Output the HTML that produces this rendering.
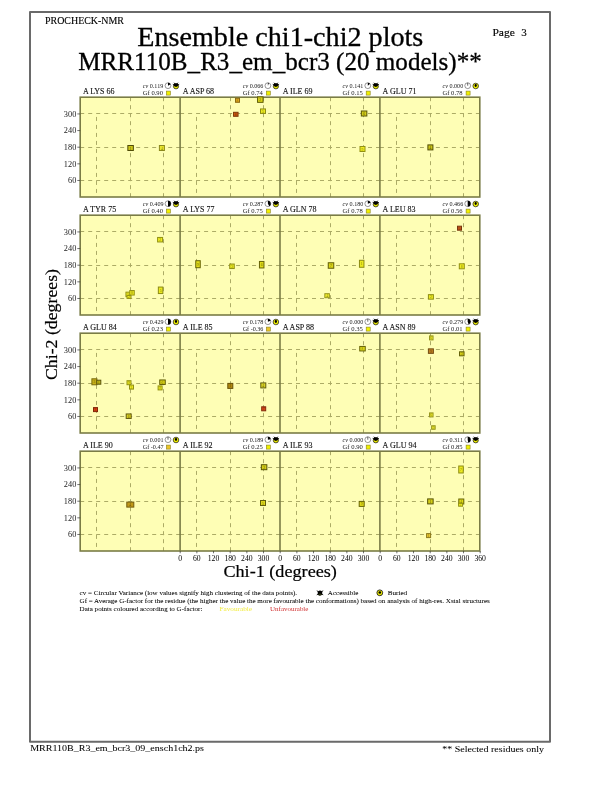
<!DOCTYPE html><html><head><meta charset="utf-8"><style>html,body{margin:0;padding:0;background:#fff;}svg{display:block;will-change:transform;}text{font-family:"Liberation Serif", serif;}</style></head><body>
<svg width="612" height="792" viewBox="0 0 612 792">
<rect x="0" y="0" width="612" height="792" fill="#fff"/>
<path d="M30 12 H550 V741.8 H30 Z" fill="none" stroke="#6a6a6a" stroke-width="2" stroke-linejoin="round"/>
<text x="45.0" y="23.8" font-size="10" stroke="#000" stroke-width="0.12" textLength="79" lengthAdjust="spacingAndGlyphs">PROCHECK-NMR</text>
<text x="137.3" y="45.7" font-size="27.4" stroke="#000" stroke-width="0.3" textLength="286" lengthAdjust="spacingAndGlyphs">Ensemble chi1-chi2 plots</text>
<text x="78.3" y="69.8" font-size="25.4" stroke="#000" stroke-width="0.3" textLength="403.5" lengthAdjust="spacingAndGlyphs">MRR110B_R3_em_bcr3 (20 models)**</text>
<text x="492.4" y="35.7" font-size="10.7" stroke="#000" stroke-width="0.15" textLength="22.4" lengthAdjust="spacingAndGlyphs">Page</text><text x="521.3" y="35.7" font-size="11" stroke="#000" stroke-width="0.15">3</text>
<rect x="80.20" y="97.20" width="99.9" height="99.8" fill="#fefeb5"/>
<line x1="80.20" y1="180.50" x2="180.10" y2="180.50" stroke="#acab66" stroke-width="1" stroke-dasharray="4 4"/>
<line x1="80.20" y1="147.50" x2="180.10" y2="147.50" stroke="#acab66" stroke-width="1" stroke-dasharray="4 4"/>
<line x1="80.20" y1="113.50" x2="180.10" y2="113.50" stroke="#acab66" stroke-width="1" stroke-dasharray="4 4"/>
<line x1="130.50" y1="97.20" x2="130.50" y2="197.00" stroke="#acab66" stroke-width="1" stroke-dasharray="4 4"/>
<line x1="163.50" y1="97.20" x2="163.50" y2="197.00" stroke="#acab66" stroke-width="1" stroke-dasharray="4 4"/>
<line x1="96.50" y1="113.93" x2="96.50" y2="197.00" stroke="#acab66" stroke-width="1" stroke-dasharray="4 4" stroke-dashoffset="5"/>
<text transform="translate(82.90,94.20) scale(1.1,1)" font-size="7.3" fill="#111" stroke="#111" stroke-width="0.1">A LYS 66</text>
<text transform="translate(142.80,87.90) scale(1.04,1)" font-size="5.9" fill="#1a1a1a"><tspan font-style="italic">cv</tspan> 0.119</text>
<text transform="translate(142.80,94.80) scale(1.12,1)" font-size="5.9" fill="#1a1a1a">Gf 0.90</text>
<circle cx="168.00" cy="85.70" r="2.9" fill="#fff" stroke="#333" stroke-width="0.5"/>
<path d="M168.00 85.70 L168.00 82.80 A2.9 2.9 0 0 1 170.51 84.25 Z" fill="#000"/>
<circle cx="176.00" cy="86.30" r="2.6" fill="#e8e800" stroke="#222" stroke-width="0.75"/>
<line x1="176.00" y1="85.50" x2="172.81" y2="84.34" stroke="#000" stroke-width="0.8"/>
<line x1="176.00" y1="85.50" x2="174.05" y2="82.71" stroke="#000" stroke-width="0.8"/>
<line x1="176.00" y1="85.50" x2="177.95" y2="82.71" stroke="#000" stroke-width="0.8"/>
<line x1="176.00" y1="85.50" x2="179.19" y2="84.34" stroke="#000" stroke-width="0.8"/>
<ellipse cx="176.00" cy="85.10" rx="2.3" ry="1.8" fill="#000"/>
<rect x="166.40" y="91.10" width="4" height="4" fill="#f0f000" stroke="#8a8420" stroke-width="0.6"/>
<rect x="180.10" y="97.20" width="99.9" height="99.8" fill="#fefeb5"/>
<line x1="180.10" y1="180.50" x2="280.00" y2="180.50" stroke="#acab66" stroke-width="1" stroke-dasharray="4 4"/>
<line x1="180.10" y1="147.50" x2="280.00" y2="147.50" stroke="#acab66" stroke-width="1" stroke-dasharray="4 4"/>
<line x1="180.10" y1="113.50" x2="280.00" y2="113.50" stroke="#acab66" stroke-width="1" stroke-dasharray="4 4"/>
<line x1="230.50" y1="97.20" x2="230.50" y2="197.00" stroke="#acab66" stroke-width="1" stroke-dasharray="4 4"/>
<line x1="263.50" y1="97.20" x2="263.50" y2="197.00" stroke="#acab66" stroke-width="1" stroke-dasharray="4 4"/>
<line x1="196.50" y1="113.93" x2="196.50" y2="197.00" stroke="#acab66" stroke-width="1" stroke-dasharray="4 4" stroke-dashoffset="5"/>
<text transform="translate(182.80,94.20) scale(1.1,1)" font-size="7.3" fill="#111" stroke="#111" stroke-width="0.1">A ASP 68</text>
<text transform="translate(242.70,87.90) scale(1.04,1)" font-size="5.9" fill="#1a1a1a"><tspan font-style="italic">cv</tspan> 0.066</text>
<text transform="translate(242.70,94.80) scale(1.12,1)" font-size="5.9" fill="#1a1a1a">Gf 0.74</text>
<circle cx="267.90" cy="85.70" r="2.9" fill="#fff" stroke="#333" stroke-width="0.5"/>
<path d="M267.90 85.70 L267.90 82.80 A2.9 2.9 0 0 1 268.89 82.97 Z" fill="#000"/>
<circle cx="275.90" cy="86.30" r="2.6" fill="#e8e800" stroke="#222" stroke-width="0.75"/>
<line x1="275.90" y1="85.50" x2="272.71" y2="84.34" stroke="#000" stroke-width="0.8"/>
<line x1="275.90" y1="85.50" x2="273.95" y2="82.71" stroke="#000" stroke-width="0.8"/>
<line x1="275.90" y1="85.50" x2="277.85" y2="82.71" stroke="#000" stroke-width="0.8"/>
<line x1="275.90" y1="85.50" x2="279.09" y2="84.34" stroke="#000" stroke-width="0.8"/>
<ellipse cx="275.90" cy="85.10" rx="2.3" ry="1.8" fill="#000"/>
<rect x="266.30" y="91.10" width="4" height="4" fill="#f0f000" stroke="#8a8420" stroke-width="0.6"/>
<rect x="280.00" y="97.20" width="99.9" height="99.8" fill="#fefeb5"/>
<line x1="280.00" y1="180.50" x2="379.90" y2="180.50" stroke="#acab66" stroke-width="1" stroke-dasharray="4 4"/>
<line x1="280.00" y1="147.50" x2="379.90" y2="147.50" stroke="#acab66" stroke-width="1" stroke-dasharray="4 4"/>
<line x1="280.00" y1="113.50" x2="379.90" y2="113.50" stroke="#acab66" stroke-width="1" stroke-dasharray="4 4"/>
<line x1="330.50" y1="97.20" x2="330.50" y2="197.00" stroke="#acab66" stroke-width="1" stroke-dasharray="4 4"/>
<line x1="363.50" y1="97.20" x2="363.50" y2="197.00" stroke="#acab66" stroke-width="1" stroke-dasharray="4 4"/>
<line x1="296.50" y1="113.93" x2="296.50" y2="197.00" stroke="#acab66" stroke-width="1" stroke-dasharray="4 4" stroke-dashoffset="5"/>
<text transform="translate(282.70,94.20) scale(1.1,1)" font-size="7.3" fill="#111" stroke="#111" stroke-width="0.1">A ILE 69</text>
<text transform="translate(342.60,87.90) scale(1.04,1)" font-size="5.9" fill="#1a1a1a"><tspan font-style="italic">cv</tspan> 0.141</text>
<text transform="translate(342.60,94.80) scale(1.12,1)" font-size="5.9" fill="#1a1a1a">Gf 0.15</text>
<circle cx="367.80" cy="85.70" r="2.9" fill="#fff" stroke="#333" stroke-width="0.5"/>
<path d="M367.80 85.70 L367.80 82.80 A2.9 2.9 0 0 1 370.02 83.84 Z" fill="#000"/>
<circle cx="375.80" cy="86.30" r="2.6" fill="#e8e800" stroke="#222" stroke-width="0.75"/>
<line x1="375.80" y1="85.50" x2="372.61" y2="84.34" stroke="#000" stroke-width="0.8"/>
<line x1="375.80" y1="85.50" x2="373.85" y2="82.71" stroke="#000" stroke-width="0.8"/>
<line x1="375.80" y1="85.50" x2="377.75" y2="82.71" stroke="#000" stroke-width="0.8"/>
<line x1="375.80" y1="85.50" x2="378.99" y2="84.34" stroke="#000" stroke-width="0.8"/>
<ellipse cx="375.80" cy="85.10" rx="2.3" ry="1.8" fill="#000"/>
<rect x="366.20" y="91.10" width="4" height="4" fill="#f0f000" stroke="#8a8420" stroke-width="0.6"/>
<rect x="379.90" y="97.20" width="99.9" height="99.8" fill="#fefeb5"/>
<line x1="379.90" y1="180.50" x2="479.80" y2="180.50" stroke="#acab66" stroke-width="1" stroke-dasharray="4 4"/>
<line x1="379.90" y1="147.50" x2="479.80" y2="147.50" stroke="#acab66" stroke-width="1" stroke-dasharray="4 4"/>
<line x1="379.90" y1="113.50" x2="479.80" y2="113.50" stroke="#acab66" stroke-width="1" stroke-dasharray="4 4"/>
<line x1="430.50" y1="97.20" x2="430.50" y2="197.00" stroke="#acab66" stroke-width="1" stroke-dasharray="4 4"/>
<line x1="463.50" y1="97.20" x2="463.50" y2="197.00" stroke="#acab66" stroke-width="1" stroke-dasharray="4 4"/>
<line x1="396.50" y1="113.93" x2="396.50" y2="197.00" stroke="#acab66" stroke-width="1" stroke-dasharray="4 4" stroke-dashoffset="5"/>
<text transform="translate(382.60,94.20) scale(1.1,1)" font-size="7.3" fill="#111" stroke="#111" stroke-width="0.1">A GLU 71</text>
<text transform="translate(442.50,87.90) scale(1.04,1)" font-size="5.9" fill="#1a1a1a"><tspan font-style="italic">cv</tspan> 0.000</text>
<text transform="translate(442.50,94.80) scale(1.12,1)" font-size="5.9" fill="#1a1a1a">Gf 0.78</text>
<circle cx="467.70" cy="85.70" r="2.9" fill="#fff" stroke="#333" stroke-width="0.5"/>
<line x1="467.70" y1="85.70" x2="467.70" y2="82.80" stroke="#000" stroke-width="0.6"/>
<circle cx="475.70" cy="86.00" r="2.8" fill="#f0f000" stroke="#1a1a1a" stroke-width="0.7"/>
<ellipse cx="475.70" cy="85.50" rx="1.1" ry="1.4" fill="#000"/>
<rect x="466.10" y="91.10" width="4" height="4" fill="#f0f000" stroke="#8a8420" stroke-width="0.6"/>
<rect x="80.20" y="215.20" width="99.9" height="99.8" fill="#fefeb5"/>
<line x1="80.20" y1="298.50" x2="180.10" y2="298.50" stroke="#acab66" stroke-width="1" stroke-dasharray="4 4"/>
<line x1="80.20" y1="265.50" x2="180.10" y2="265.50" stroke="#acab66" stroke-width="1" stroke-dasharray="4 4"/>
<line x1="80.20" y1="231.50" x2="180.10" y2="231.50" stroke="#acab66" stroke-width="1" stroke-dasharray="4 4"/>
<line x1="130.50" y1="215.20" x2="130.50" y2="315.00" stroke="#acab66" stroke-width="1" stroke-dasharray="4 4"/>
<line x1="163.50" y1="215.20" x2="163.50" y2="315.00" stroke="#acab66" stroke-width="1" stroke-dasharray="4 4"/>
<line x1="96.50" y1="231.93" x2="96.50" y2="315.00" stroke="#acab66" stroke-width="1" stroke-dasharray="4 4" stroke-dashoffset="5"/>
<text transform="translate(82.90,212.20) scale(1.1,1)" font-size="7.3" fill="#111" stroke="#111" stroke-width="0.1">A TYR 75</text>
<text transform="translate(142.80,205.90) scale(1.04,1)" font-size="5.9" fill="#1a1a1a"><tspan font-style="italic">cv</tspan> 0.409</text>
<text transform="translate(142.80,212.80) scale(1.12,1)" font-size="5.9" fill="#1a1a1a">Gf 0.40</text>
<circle cx="168.00" cy="203.70" r="2.9" fill="#fff" stroke="#333" stroke-width="0.5"/>
<path d="M168.00 203.70 L168.00 200.80 A2.9 2.9 0 0 1 168.00 206.60 Z" fill="#000"/>
<circle cx="176.00" cy="204.30" r="2.6" fill="#e8e800" stroke="#222" stroke-width="0.75"/>
<line x1="176.00" y1="203.50" x2="172.81" y2="202.34" stroke="#000" stroke-width="0.8"/>
<line x1="176.00" y1="203.50" x2="174.05" y2="200.71" stroke="#000" stroke-width="0.8"/>
<line x1="176.00" y1="203.50" x2="177.95" y2="200.71" stroke="#000" stroke-width="0.8"/>
<line x1="176.00" y1="203.50" x2="179.19" y2="202.34" stroke="#000" stroke-width="0.8"/>
<ellipse cx="176.00" cy="203.10" rx="2.3" ry="1.8" fill="#000"/>
<rect x="166.40" y="209.10" width="4" height="4" fill="#f0f000" stroke="#8a8420" stroke-width="0.6"/>
<rect x="180.10" y="215.20" width="99.9" height="99.8" fill="#fefeb5"/>
<line x1="180.10" y1="298.50" x2="280.00" y2="298.50" stroke="#acab66" stroke-width="1" stroke-dasharray="4 4"/>
<line x1="180.10" y1="265.50" x2="280.00" y2="265.50" stroke="#acab66" stroke-width="1" stroke-dasharray="4 4"/>
<line x1="180.10" y1="231.50" x2="280.00" y2="231.50" stroke="#acab66" stroke-width="1" stroke-dasharray="4 4"/>
<line x1="230.50" y1="215.20" x2="230.50" y2="315.00" stroke="#acab66" stroke-width="1" stroke-dasharray="4 4"/>
<line x1="263.50" y1="215.20" x2="263.50" y2="315.00" stroke="#acab66" stroke-width="1" stroke-dasharray="4 4"/>
<line x1="196.50" y1="231.93" x2="196.50" y2="315.00" stroke="#acab66" stroke-width="1" stroke-dasharray="4 4" stroke-dashoffset="5"/>
<text transform="translate(182.80,212.20) scale(1.1,1)" font-size="7.3" fill="#111" stroke="#111" stroke-width="0.1">A LYS 77</text>
<text transform="translate(242.70,205.90) scale(1.04,1)" font-size="5.9" fill="#1a1a1a"><tspan font-style="italic">cv</tspan> 0.287</text>
<text transform="translate(242.70,212.80) scale(1.12,1)" font-size="5.9" fill="#1a1a1a">Gf 0.75</text>
<circle cx="267.90" cy="203.70" r="2.9" fill="#fff" stroke="#333" stroke-width="0.5"/>
<path d="M267.90 203.70 L267.90 200.80 A2.9 2.9 0 0 1 269.35 206.21 Z" fill="#000"/>
<circle cx="275.90" cy="204.30" r="2.6" fill="#e8e800" stroke="#222" stroke-width="0.75"/>
<line x1="275.90" y1="203.50" x2="272.71" y2="202.34" stroke="#000" stroke-width="0.8"/>
<line x1="275.90" y1="203.50" x2="273.95" y2="200.71" stroke="#000" stroke-width="0.8"/>
<line x1="275.90" y1="203.50" x2="277.85" y2="200.71" stroke="#000" stroke-width="0.8"/>
<line x1="275.90" y1="203.50" x2="279.09" y2="202.34" stroke="#000" stroke-width="0.8"/>
<ellipse cx="275.90" cy="203.10" rx="2.3" ry="1.8" fill="#000"/>
<rect x="266.30" y="209.10" width="4" height="4" fill="#f0f000" stroke="#8a8420" stroke-width="0.6"/>
<rect x="280.00" y="215.20" width="99.9" height="99.8" fill="#fefeb5"/>
<line x1="280.00" y1="298.50" x2="379.90" y2="298.50" stroke="#acab66" stroke-width="1" stroke-dasharray="4 4"/>
<line x1="280.00" y1="265.50" x2="379.90" y2="265.50" stroke="#acab66" stroke-width="1" stroke-dasharray="4 4"/>
<line x1="280.00" y1="231.50" x2="379.90" y2="231.50" stroke="#acab66" stroke-width="1" stroke-dasharray="4 4"/>
<line x1="330.50" y1="215.20" x2="330.50" y2="315.00" stroke="#acab66" stroke-width="1" stroke-dasharray="4 4"/>
<line x1="363.50" y1="215.20" x2="363.50" y2="315.00" stroke="#acab66" stroke-width="1" stroke-dasharray="4 4"/>
<line x1="296.50" y1="231.93" x2="296.50" y2="315.00" stroke="#acab66" stroke-width="1" stroke-dasharray="4 4" stroke-dashoffset="5"/>
<text transform="translate(282.70,212.20) scale(1.1,1)" font-size="7.3" fill="#111" stroke="#111" stroke-width="0.1">A GLN 78</text>
<text transform="translate(342.60,205.90) scale(1.04,1)" font-size="5.9" fill="#1a1a1a"><tspan font-style="italic">cv</tspan> 0.180</text>
<text transform="translate(342.60,212.80) scale(1.12,1)" font-size="5.9" fill="#1a1a1a">Gf 0.78</text>
<circle cx="367.80" cy="203.70" r="2.9" fill="#fff" stroke="#333" stroke-width="0.5"/>
<path d="M367.80 203.70 L367.80 200.80 A2.9 2.9 0 0 1 370.53 202.71 Z" fill="#000"/>
<circle cx="375.80" cy="204.30" r="2.6" fill="#e8e800" stroke="#222" stroke-width="0.75"/>
<line x1="375.80" y1="203.50" x2="372.61" y2="202.34" stroke="#000" stroke-width="0.8"/>
<line x1="375.80" y1="203.50" x2="373.85" y2="200.71" stroke="#000" stroke-width="0.8"/>
<line x1="375.80" y1="203.50" x2="377.75" y2="200.71" stroke="#000" stroke-width="0.8"/>
<line x1="375.80" y1="203.50" x2="378.99" y2="202.34" stroke="#000" stroke-width="0.8"/>
<ellipse cx="375.80" cy="203.10" rx="2.3" ry="1.8" fill="#000"/>
<rect x="366.20" y="209.10" width="4" height="4" fill="#f0f000" stroke="#8a8420" stroke-width="0.6"/>
<rect x="379.90" y="215.20" width="99.9" height="99.8" fill="#fefeb5"/>
<line x1="379.90" y1="298.50" x2="479.80" y2="298.50" stroke="#acab66" stroke-width="1" stroke-dasharray="4 4"/>
<line x1="379.90" y1="265.50" x2="479.80" y2="265.50" stroke="#acab66" stroke-width="1" stroke-dasharray="4 4"/>
<line x1="379.90" y1="231.50" x2="479.80" y2="231.50" stroke="#acab66" stroke-width="1" stroke-dasharray="4 4"/>
<line x1="430.50" y1="215.20" x2="430.50" y2="315.00" stroke="#acab66" stroke-width="1" stroke-dasharray="4 4"/>
<line x1="463.50" y1="215.20" x2="463.50" y2="315.00" stroke="#acab66" stroke-width="1" stroke-dasharray="4 4"/>
<line x1="396.50" y1="231.93" x2="396.50" y2="315.00" stroke="#acab66" stroke-width="1" stroke-dasharray="4 4" stroke-dashoffset="5"/>
<text transform="translate(382.60,212.20) scale(1.1,1)" font-size="7.3" fill="#111" stroke="#111" stroke-width="0.1">A LEU 83</text>
<text transform="translate(442.50,205.90) scale(1.04,1)" font-size="5.9" fill="#1a1a1a"><tspan font-style="italic">cv</tspan> 0.466</text>
<text transform="translate(442.50,212.80) scale(1.12,1)" font-size="5.9" fill="#1a1a1a">Gf 0.56</text>
<circle cx="467.70" cy="203.70" r="2.9" fill="#fff" stroke="#333" stroke-width="0.5"/>
<path d="M467.70 203.70 L467.70 200.80 A2.9 2.9 0 0 1 467.70 206.60 Z" fill="#000"/>
<circle cx="475.70" cy="204.00" r="2.8" fill="#f0f000" stroke="#1a1a1a" stroke-width="0.7"/>
<ellipse cx="475.70" cy="203.50" rx="1.1" ry="1.4" fill="#000"/>
<rect x="466.10" y="209.10" width="4" height="4" fill="#f0f000" stroke="#8a8420" stroke-width="0.6"/>
<rect x="80.20" y="333.20" width="99.9" height="99.8" fill="#fefeb5"/>
<line x1="80.20" y1="416.50" x2="180.10" y2="416.50" stroke="#acab66" stroke-width="1" stroke-dasharray="4 4"/>
<line x1="80.20" y1="383.50" x2="180.10" y2="383.50" stroke="#acab66" stroke-width="1" stroke-dasharray="4 4"/>
<line x1="80.20" y1="349.50" x2="180.10" y2="349.50" stroke="#acab66" stroke-width="1" stroke-dasharray="4 4"/>
<line x1="130.50" y1="333.20" x2="130.50" y2="433.00" stroke="#acab66" stroke-width="1" stroke-dasharray="4 4"/>
<line x1="163.50" y1="333.20" x2="163.50" y2="433.00" stroke="#acab66" stroke-width="1" stroke-dasharray="4 4"/>
<line x1="96.50" y1="349.93" x2="96.50" y2="433.00" stroke="#acab66" stroke-width="1" stroke-dasharray="4 4" stroke-dashoffset="5"/>
<text transform="translate(82.90,330.20) scale(1.1,1)" font-size="7.3" fill="#111" stroke="#111" stroke-width="0.1">A GLU 84</text>
<text transform="translate(142.80,323.90) scale(1.04,1)" font-size="5.9" fill="#1a1a1a"><tspan font-style="italic">cv</tspan> 0.429</text>
<text transform="translate(142.80,330.80) scale(1.12,1)" font-size="5.9" fill="#1a1a1a">Gf 0.23</text>
<circle cx="168.00" cy="321.70" r="2.9" fill="#fff" stroke="#333" stroke-width="0.5"/>
<path d="M168.00 321.70 L168.00 318.80 A2.9 2.9 0 0 1 168.00 324.60 Z" fill="#000"/>
<circle cx="176.00" cy="322.00" r="2.8" fill="#f0f000" stroke="#1a1a1a" stroke-width="0.7"/>
<ellipse cx="176.00" cy="321.50" rx="1.1" ry="1.4" fill="#000"/>
<rect x="166.40" y="327.10" width="4" height="4" fill="#f0f000" stroke="#8a8420" stroke-width="0.6"/>
<rect x="180.10" y="333.20" width="99.9" height="99.8" fill="#fefeb5"/>
<line x1="180.10" y1="416.50" x2="280.00" y2="416.50" stroke="#acab66" stroke-width="1" stroke-dasharray="4 4"/>
<line x1="180.10" y1="383.50" x2="280.00" y2="383.50" stroke="#acab66" stroke-width="1" stroke-dasharray="4 4"/>
<line x1="180.10" y1="349.50" x2="280.00" y2="349.50" stroke="#acab66" stroke-width="1" stroke-dasharray="4 4"/>
<line x1="230.50" y1="333.20" x2="230.50" y2="433.00" stroke="#acab66" stroke-width="1" stroke-dasharray="4 4"/>
<line x1="263.50" y1="333.20" x2="263.50" y2="433.00" stroke="#acab66" stroke-width="1" stroke-dasharray="4 4"/>
<line x1="196.50" y1="349.93" x2="196.50" y2="433.00" stroke="#acab66" stroke-width="1" stroke-dasharray="4 4" stroke-dashoffset="5"/>
<text transform="translate(182.80,330.20) scale(1.1,1)" font-size="7.3" fill="#111" stroke="#111" stroke-width="0.1">A ILE 85</text>
<text transform="translate(242.70,323.90) scale(1.04,1)" font-size="5.9" fill="#1a1a1a"><tspan font-style="italic">cv</tspan> 0.178</text>
<text transform="translate(242.70,330.80) scale(1.04,1)" font-size="5.9" fill="#1a1a1a">Gf -0.36</text>
<circle cx="267.90" cy="321.70" r="2.9" fill="#fff" stroke="#333" stroke-width="0.5"/>
<path d="M267.90 321.70 L267.90 318.80 A2.9 2.9 0 0 1 270.63 320.71 Z" fill="#000"/>
<circle cx="275.90" cy="322.00" r="2.8" fill="#f0f000" stroke="#1a1a1a" stroke-width="0.7"/>
<ellipse cx="275.90" cy="321.50" rx="1.1" ry="1.4" fill="#000"/>
<rect x="266.30" y="327.10" width="4" height="4" fill="#ecc428" stroke="#8a8420" stroke-width="0.6"/>
<rect x="280.00" y="333.20" width="99.9" height="99.8" fill="#fefeb5"/>
<line x1="280.00" y1="416.50" x2="379.90" y2="416.50" stroke="#acab66" stroke-width="1" stroke-dasharray="4 4"/>
<line x1="280.00" y1="383.50" x2="379.90" y2="383.50" stroke="#acab66" stroke-width="1" stroke-dasharray="4 4"/>
<line x1="280.00" y1="349.50" x2="379.90" y2="349.50" stroke="#acab66" stroke-width="1" stroke-dasharray="4 4"/>
<line x1="330.50" y1="333.20" x2="330.50" y2="433.00" stroke="#acab66" stroke-width="1" stroke-dasharray="4 4"/>
<line x1="363.50" y1="333.20" x2="363.50" y2="433.00" stroke="#acab66" stroke-width="1" stroke-dasharray="4 4"/>
<line x1="296.50" y1="349.93" x2="296.50" y2="433.00" stroke="#acab66" stroke-width="1" stroke-dasharray="4 4" stroke-dashoffset="5"/>
<text transform="translate(282.70,330.20) scale(1.1,1)" font-size="7.3" fill="#111" stroke="#111" stroke-width="0.1">A ASP 88</text>
<text transform="translate(342.60,323.90) scale(1.04,1)" font-size="5.9" fill="#1a1a1a"><tspan font-style="italic">cv</tspan> 0.000</text>
<text transform="translate(342.60,330.80) scale(1.12,1)" font-size="5.9" fill="#1a1a1a">Gf 0.35</text>
<circle cx="367.80" cy="321.70" r="2.9" fill="#fff" stroke="#333" stroke-width="0.5"/>
<line x1="367.80" y1="321.70" x2="367.80" y2="318.80" stroke="#000" stroke-width="0.6"/>
<circle cx="375.80" cy="322.30" r="2.6" fill="#e8e800" stroke="#222" stroke-width="0.75"/>
<line x1="375.80" y1="321.50" x2="372.61" y2="320.34" stroke="#000" stroke-width="0.8"/>
<line x1="375.80" y1="321.50" x2="373.85" y2="318.71" stroke="#000" stroke-width="0.8"/>
<line x1="375.80" y1="321.50" x2="377.75" y2="318.71" stroke="#000" stroke-width="0.8"/>
<line x1="375.80" y1="321.50" x2="378.99" y2="320.34" stroke="#000" stroke-width="0.8"/>
<ellipse cx="375.80" cy="321.10" rx="2.3" ry="1.8" fill="#000"/>
<rect x="366.20" y="327.10" width="4" height="4" fill="#f0f000" stroke="#8a8420" stroke-width="0.6"/>
<rect x="379.90" y="333.20" width="99.9" height="99.8" fill="#fefeb5"/>
<line x1="379.90" y1="416.50" x2="479.80" y2="416.50" stroke="#acab66" stroke-width="1" stroke-dasharray="4 4"/>
<line x1="379.90" y1="383.50" x2="479.80" y2="383.50" stroke="#acab66" stroke-width="1" stroke-dasharray="4 4"/>
<line x1="379.90" y1="349.50" x2="479.80" y2="349.50" stroke="#acab66" stroke-width="1" stroke-dasharray="4 4"/>
<line x1="430.50" y1="333.20" x2="430.50" y2="433.00" stroke="#acab66" stroke-width="1" stroke-dasharray="4 4"/>
<line x1="463.50" y1="333.20" x2="463.50" y2="433.00" stroke="#acab66" stroke-width="1" stroke-dasharray="4 4"/>
<line x1="396.50" y1="349.93" x2="396.50" y2="433.00" stroke="#acab66" stroke-width="1" stroke-dasharray="4 4" stroke-dashoffset="5"/>
<text transform="translate(382.60,330.20) scale(1.1,1)" font-size="7.3" fill="#111" stroke="#111" stroke-width="0.1">A ASN 89</text>
<text transform="translate(442.50,323.90) scale(1.04,1)" font-size="5.9" fill="#1a1a1a"><tspan font-style="italic">cv</tspan> 0.279</text>
<text transform="translate(442.50,330.80) scale(1.12,1)" font-size="5.9" fill="#1a1a1a">Gf 0.01</text>
<circle cx="467.70" cy="321.70" r="2.9" fill="#fff" stroke="#333" stroke-width="0.5"/>
<path d="M467.70 321.70 L467.70 318.80 A2.9 2.9 0 0 1 468.69 324.43 Z" fill="#000"/>
<circle cx="475.70" cy="322.30" r="2.6" fill="#e8e800" stroke="#222" stroke-width="0.75"/>
<line x1="475.70" y1="321.50" x2="472.51" y2="320.34" stroke="#000" stroke-width="0.8"/>
<line x1="475.70" y1="321.50" x2="473.75" y2="318.71" stroke="#000" stroke-width="0.8"/>
<line x1="475.70" y1="321.50" x2="477.65" y2="318.71" stroke="#000" stroke-width="0.8"/>
<line x1="475.70" y1="321.50" x2="478.89" y2="320.34" stroke="#000" stroke-width="0.8"/>
<ellipse cx="475.70" cy="321.10" rx="2.3" ry="1.8" fill="#000"/>
<rect x="466.10" y="327.10" width="4" height="4" fill="#f0f000" stroke="#8a8420" stroke-width="0.6"/>
<rect x="80.20" y="451.20" width="99.9" height="99.8" fill="#fefeb5"/>
<line x1="80.20" y1="534.50" x2="180.10" y2="534.50" stroke="#acab66" stroke-width="1" stroke-dasharray="4 4"/>
<line x1="80.20" y1="501.50" x2="180.10" y2="501.50" stroke="#acab66" stroke-width="1" stroke-dasharray="4 4"/>
<line x1="80.20" y1="467.50" x2="180.10" y2="467.50" stroke="#acab66" stroke-width="1" stroke-dasharray="4 4"/>
<line x1="130.50" y1="451.20" x2="130.50" y2="551.00" stroke="#acab66" stroke-width="1" stroke-dasharray="4 4"/>
<line x1="163.50" y1="451.20" x2="163.50" y2="551.00" stroke="#acab66" stroke-width="1" stroke-dasharray="4 4"/>
<line x1="96.50" y1="467.93" x2="96.50" y2="551.00" stroke="#acab66" stroke-width="1" stroke-dasharray="4 4" stroke-dashoffset="5"/>
<text transform="translate(82.90,448.20) scale(1.1,1)" font-size="7.3" fill="#111" stroke="#111" stroke-width="0.1">A ILE 90</text>
<text transform="translate(142.80,441.90) scale(1.04,1)" font-size="5.9" fill="#1a1a1a"><tspan font-style="italic">cv</tspan> 0.001</text>
<text transform="translate(142.80,448.80) scale(1.04,1)" font-size="5.9" fill="#1a1a1a">Gf -0.47</text>
<circle cx="168.00" cy="439.70" r="2.9" fill="#fff" stroke="#333" stroke-width="0.5"/>
<line x1="168.00" y1="439.70" x2="168.00" y2="436.80" stroke="#000" stroke-width="0.6"/>
<circle cx="176.00" cy="440.00" r="2.8" fill="#f0f000" stroke="#1a1a1a" stroke-width="0.7"/>
<ellipse cx="176.00" cy="439.50" rx="1.1" ry="1.4" fill="#000"/>
<rect x="166.40" y="445.10" width="4" height="4" fill="#ecc428" stroke="#8a8420" stroke-width="0.6"/>
<rect x="180.10" y="451.20" width="99.9" height="99.8" fill="#fefeb5"/>
<line x1="180.10" y1="534.50" x2="280.00" y2="534.50" stroke="#acab66" stroke-width="1" stroke-dasharray="4 4"/>
<line x1="180.10" y1="501.50" x2="280.00" y2="501.50" stroke="#acab66" stroke-width="1" stroke-dasharray="4 4"/>
<line x1="180.10" y1="467.50" x2="280.00" y2="467.50" stroke="#acab66" stroke-width="1" stroke-dasharray="4 4"/>
<line x1="230.50" y1="451.20" x2="230.50" y2="551.00" stroke="#acab66" stroke-width="1" stroke-dasharray="4 4"/>
<line x1="263.50" y1="451.20" x2="263.50" y2="551.00" stroke="#acab66" stroke-width="1" stroke-dasharray="4 4"/>
<line x1="196.50" y1="467.93" x2="196.50" y2="551.00" stroke="#acab66" stroke-width="1" stroke-dasharray="4 4" stroke-dashoffset="5"/>
<text transform="translate(182.80,448.20) scale(1.1,1)" font-size="7.3" fill="#111" stroke="#111" stroke-width="0.1">A ILE 92</text>
<text transform="translate(242.70,441.90) scale(1.04,1)" font-size="5.9" fill="#1a1a1a"><tspan font-style="italic">cv</tspan> 0.189</text>
<text transform="translate(242.70,448.80) scale(1.12,1)" font-size="5.9" fill="#1a1a1a">Gf 0.25</text>
<circle cx="267.90" cy="439.70" r="2.9" fill="#fff" stroke="#333" stroke-width="0.5"/>
<path d="M267.90 439.70 L267.90 436.80 A2.9 2.9 0 0 1 270.76 439.20 Z" fill="#000"/>
<circle cx="275.90" cy="440.30" r="2.6" fill="#e8e800" stroke="#222" stroke-width="0.75"/>
<line x1="275.90" y1="439.50" x2="272.71" y2="438.34" stroke="#000" stroke-width="0.8"/>
<line x1="275.90" y1="439.50" x2="273.95" y2="436.71" stroke="#000" stroke-width="0.8"/>
<line x1="275.90" y1="439.50" x2="277.85" y2="436.71" stroke="#000" stroke-width="0.8"/>
<line x1="275.90" y1="439.50" x2="279.09" y2="438.34" stroke="#000" stroke-width="0.8"/>
<ellipse cx="275.90" cy="439.10" rx="2.3" ry="1.8" fill="#000"/>
<rect x="266.30" y="445.10" width="4" height="4" fill="#f0f000" stroke="#8a8420" stroke-width="0.6"/>
<rect x="280.00" y="451.20" width="99.9" height="99.8" fill="#fefeb5"/>
<line x1="280.00" y1="534.50" x2="379.90" y2="534.50" stroke="#acab66" stroke-width="1" stroke-dasharray="4 4"/>
<line x1="280.00" y1="501.50" x2="379.90" y2="501.50" stroke="#acab66" stroke-width="1" stroke-dasharray="4 4"/>
<line x1="280.00" y1="467.50" x2="379.90" y2="467.50" stroke="#acab66" stroke-width="1" stroke-dasharray="4 4"/>
<line x1="330.50" y1="451.20" x2="330.50" y2="551.00" stroke="#acab66" stroke-width="1" stroke-dasharray="4 4"/>
<line x1="363.50" y1="451.20" x2="363.50" y2="551.00" stroke="#acab66" stroke-width="1" stroke-dasharray="4 4"/>
<line x1="296.50" y1="467.93" x2="296.50" y2="551.00" stroke="#acab66" stroke-width="1" stroke-dasharray="4 4" stroke-dashoffset="5"/>
<text transform="translate(282.70,448.20) scale(1.1,1)" font-size="7.3" fill="#111" stroke="#111" stroke-width="0.1">A ILE 93</text>
<text transform="translate(342.60,441.90) scale(1.04,1)" font-size="5.9" fill="#1a1a1a"><tspan font-style="italic">cv</tspan> 0.000</text>
<text transform="translate(342.60,448.80) scale(1.12,1)" font-size="5.9" fill="#1a1a1a">Gf 0.90</text>
<circle cx="367.80" cy="439.70" r="2.9" fill="#fff" stroke="#333" stroke-width="0.5"/>
<line x1="367.80" y1="439.70" x2="367.80" y2="436.80" stroke="#000" stroke-width="0.6"/>
<circle cx="375.80" cy="440.30" r="2.6" fill="#e8e800" stroke="#222" stroke-width="0.75"/>
<line x1="375.80" y1="439.50" x2="372.61" y2="438.34" stroke="#000" stroke-width="0.8"/>
<line x1="375.80" y1="439.50" x2="373.85" y2="436.71" stroke="#000" stroke-width="0.8"/>
<line x1="375.80" y1="439.50" x2="377.75" y2="436.71" stroke="#000" stroke-width="0.8"/>
<line x1="375.80" y1="439.50" x2="378.99" y2="438.34" stroke="#000" stroke-width="0.8"/>
<ellipse cx="375.80" cy="439.10" rx="2.3" ry="1.8" fill="#000"/>
<rect x="366.20" y="445.10" width="4" height="4" fill="#f0f000" stroke="#8a8420" stroke-width="0.6"/>
<rect x="379.90" y="451.20" width="99.9" height="99.8" fill="#fefeb5"/>
<line x1="379.90" y1="534.50" x2="479.80" y2="534.50" stroke="#acab66" stroke-width="1" stroke-dasharray="4 4"/>
<line x1="379.90" y1="501.50" x2="479.80" y2="501.50" stroke="#acab66" stroke-width="1" stroke-dasharray="4 4"/>
<line x1="379.90" y1="467.50" x2="479.80" y2="467.50" stroke="#acab66" stroke-width="1" stroke-dasharray="4 4"/>
<line x1="430.50" y1="451.20" x2="430.50" y2="551.00" stroke="#acab66" stroke-width="1" stroke-dasharray="4 4"/>
<line x1="463.50" y1="451.20" x2="463.50" y2="551.00" stroke="#acab66" stroke-width="1" stroke-dasharray="4 4"/>
<line x1="396.50" y1="467.93" x2="396.50" y2="551.00" stroke="#acab66" stroke-width="1" stroke-dasharray="4 4" stroke-dashoffset="5"/>
<text transform="translate(382.60,448.20) scale(1.1,1)" font-size="7.3" fill="#111" stroke="#111" stroke-width="0.1">A GLU 94</text>
<text transform="translate(442.50,441.90) scale(1.04,1)" font-size="5.9" fill="#1a1a1a"><tspan font-style="italic">cv</tspan> 0.311</text>
<text transform="translate(442.50,448.80) scale(1.12,1)" font-size="5.9" fill="#1a1a1a">Gf 0.85</text>
<circle cx="467.70" cy="439.70" r="2.9" fill="#fff" stroke="#333" stroke-width="0.5"/>
<path d="M467.70 439.70 L467.70 436.80 A2.9 2.9 0 0 1 468.20 442.56 Z" fill="#000"/>
<circle cx="475.70" cy="440.30" r="2.6" fill="#e8e800" stroke="#222" stroke-width="0.75"/>
<line x1="475.70" y1="439.50" x2="472.51" y2="438.34" stroke="#000" stroke-width="0.8"/>
<line x1="475.70" y1="439.50" x2="473.75" y2="436.71" stroke="#000" stroke-width="0.8"/>
<line x1="475.70" y1="439.50" x2="477.65" y2="436.71" stroke="#000" stroke-width="0.8"/>
<line x1="475.70" y1="439.50" x2="478.89" y2="438.34" stroke="#000" stroke-width="0.8"/>
<ellipse cx="475.70" cy="439.10" rx="2.3" ry="1.8" fill="#000"/>
<rect x="466.10" y="445.10" width="4" height="4" fill="#f0f000" stroke="#8a8420" stroke-width="0.6"/>
<rect x="80.20" y="97.20" width="399.6" height="99.8" fill="none" stroke="#7a7c46" stroke-width="1.6"/>
<line x1="180.10" y1="97.20" x2="180.10" y2="197.00" stroke="#7a7c46" stroke-width="1.6"/>
<line x1="280.00" y1="97.20" x2="280.00" y2="197.00" stroke="#7a7c46" stroke-width="1.6"/>
<line x1="379.90" y1="97.20" x2="379.90" y2="197.00" stroke="#7a7c46" stroke-width="1.6"/>
<line x1="77.3" y1="180.47" x2="80.20" y2="180.47" stroke="#333" stroke-width="0.7"/>
<text transform="translate(76.3,183.37) scale(1.08,1)" font-size="7.7" text-anchor="end" fill="#1a1a1a">60</text>
<line x1="77.3" y1="163.83" x2="80.20" y2="163.83" stroke="#333" stroke-width="0.7"/>
<text transform="translate(76.3,166.73) scale(1.08,1)" font-size="7.7" text-anchor="end" fill="#1a1a1a">120</text>
<line x1="77.3" y1="147.20" x2="80.20" y2="147.20" stroke="#333" stroke-width="0.7"/>
<text transform="translate(76.3,150.10) scale(1.08,1)" font-size="7.7" text-anchor="end" fill="#1a1a1a">180</text>
<line x1="77.3" y1="130.57" x2="80.20" y2="130.57" stroke="#333" stroke-width="0.7"/>
<text transform="translate(76.3,133.47) scale(1.08,1)" font-size="7.7" text-anchor="end" fill="#1a1a1a">240</text>
<line x1="77.3" y1="113.93" x2="80.20" y2="113.93" stroke="#333" stroke-width="0.7"/>
<text transform="translate(76.3,116.83) scale(1.08,1)" font-size="7.7" text-anchor="end" fill="#1a1a1a">300</text>
<rect x="80.20" y="215.20" width="399.6" height="99.8" fill="none" stroke="#7a7c46" stroke-width="1.6"/>
<line x1="180.10" y1="215.20" x2="180.10" y2="315.00" stroke="#7a7c46" stroke-width="1.6"/>
<line x1="280.00" y1="215.20" x2="280.00" y2="315.00" stroke="#7a7c46" stroke-width="1.6"/>
<line x1="379.90" y1="215.20" x2="379.90" y2="315.00" stroke="#7a7c46" stroke-width="1.6"/>
<line x1="77.3" y1="298.47" x2="80.20" y2="298.47" stroke="#333" stroke-width="0.7"/>
<text transform="translate(76.3,301.37) scale(1.08,1)" font-size="7.7" text-anchor="end" fill="#1a1a1a">60</text>
<line x1="77.3" y1="281.83" x2="80.20" y2="281.83" stroke="#333" stroke-width="0.7"/>
<text transform="translate(76.3,284.73) scale(1.08,1)" font-size="7.7" text-anchor="end" fill="#1a1a1a">120</text>
<line x1="77.3" y1="265.20" x2="80.20" y2="265.20" stroke="#333" stroke-width="0.7"/>
<text transform="translate(76.3,268.10) scale(1.08,1)" font-size="7.7" text-anchor="end" fill="#1a1a1a">180</text>
<line x1="77.3" y1="248.57" x2="80.20" y2="248.57" stroke="#333" stroke-width="0.7"/>
<text transform="translate(76.3,251.47) scale(1.08,1)" font-size="7.7" text-anchor="end" fill="#1a1a1a">240</text>
<line x1="77.3" y1="231.93" x2="80.20" y2="231.93" stroke="#333" stroke-width="0.7"/>
<text transform="translate(76.3,234.83) scale(1.08,1)" font-size="7.7" text-anchor="end" fill="#1a1a1a">300</text>
<rect x="80.20" y="333.20" width="399.6" height="99.8" fill="none" stroke="#7a7c46" stroke-width="1.6"/>
<line x1="180.10" y1="333.20" x2="180.10" y2="433.00" stroke="#7a7c46" stroke-width="1.6"/>
<line x1="280.00" y1="333.20" x2="280.00" y2="433.00" stroke="#7a7c46" stroke-width="1.6"/>
<line x1="379.90" y1="333.20" x2="379.90" y2="433.00" stroke="#7a7c46" stroke-width="1.6"/>
<line x1="77.3" y1="416.47" x2="80.20" y2="416.47" stroke="#333" stroke-width="0.7"/>
<text transform="translate(76.3,419.37) scale(1.08,1)" font-size="7.7" text-anchor="end" fill="#1a1a1a">60</text>
<line x1="77.3" y1="399.83" x2="80.20" y2="399.83" stroke="#333" stroke-width="0.7"/>
<text transform="translate(76.3,402.73) scale(1.08,1)" font-size="7.7" text-anchor="end" fill="#1a1a1a">120</text>
<line x1="77.3" y1="383.20" x2="80.20" y2="383.20" stroke="#333" stroke-width="0.7"/>
<text transform="translate(76.3,386.10) scale(1.08,1)" font-size="7.7" text-anchor="end" fill="#1a1a1a">180</text>
<line x1="77.3" y1="366.57" x2="80.20" y2="366.57" stroke="#333" stroke-width="0.7"/>
<text transform="translate(76.3,369.47) scale(1.08,1)" font-size="7.7" text-anchor="end" fill="#1a1a1a">240</text>
<line x1="77.3" y1="349.93" x2="80.20" y2="349.93" stroke="#333" stroke-width="0.7"/>
<text transform="translate(76.3,352.83) scale(1.08,1)" font-size="7.7" text-anchor="end" fill="#1a1a1a">300</text>
<rect x="80.20" y="451.20" width="399.6" height="99.8" fill="none" stroke="#7a7c46" stroke-width="1.6"/>
<line x1="180.10" y1="451.20" x2="180.10" y2="551.00" stroke="#7a7c46" stroke-width="1.6"/>
<line x1="280.00" y1="451.20" x2="280.00" y2="551.00" stroke="#7a7c46" stroke-width="1.6"/>
<line x1="379.90" y1="451.20" x2="379.90" y2="551.00" stroke="#7a7c46" stroke-width="1.6"/>
<line x1="77.3" y1="534.47" x2="80.20" y2="534.47" stroke="#333" stroke-width="0.7"/>
<text transform="translate(76.3,537.37) scale(1.08,1)" font-size="7.7" text-anchor="end" fill="#1a1a1a">60</text>
<line x1="77.3" y1="517.83" x2="80.20" y2="517.83" stroke="#333" stroke-width="0.7"/>
<text transform="translate(76.3,520.73) scale(1.08,1)" font-size="7.7" text-anchor="end" fill="#1a1a1a">120</text>
<line x1="77.3" y1="501.20" x2="80.20" y2="501.20" stroke="#333" stroke-width="0.7"/>
<text transform="translate(76.3,504.10) scale(1.08,1)" font-size="7.7" text-anchor="end" fill="#1a1a1a">180</text>
<line x1="77.3" y1="484.57" x2="80.20" y2="484.57" stroke="#333" stroke-width="0.7"/>
<text transform="translate(76.3,487.47) scale(1.08,1)" font-size="7.7" text-anchor="end" fill="#1a1a1a">240</text>
<line x1="77.3" y1="467.93" x2="80.20" y2="467.93" stroke="#333" stroke-width="0.7"/>
<text transform="translate(76.3,470.83) scale(1.08,1)" font-size="7.7" text-anchor="end" fill="#1a1a1a">300</text>
<rect x="127.85" y="145.50" width="5.5" height="5" fill="#ccc618" stroke="#504c07" stroke-width="1"/>
<text x="130.60" y="149.50" font-size="3.8" text-anchor="middle" fill="#5c5808">1</text>
<rect x="159.40" y="145.50" width="5" height="5" fill="#e8e42c" stroke="#8b881c" stroke-width="1"/>
<text x="161.90" y="149.50" font-size="3.8" text-anchor="middle" fill="#7f7d1a">4</text>
<rect x="235.50" y="98.30" width="4" height="4" fill="#e8b020" stroke="#8b6913" stroke-width="1"/>
<text x="237.50" y="101.80" font-size="3.8" text-anchor="middle" fill="#7f6011">8</text>
<rect x="257.55" y="96.85" width="5.5" height="5.5" fill="#dad418" stroke="#605c07" stroke-width="1"/>
<text x="260.30" y="101.10" font-size="3.8" text-anchor="middle" fill="#6e6908">2</text>
<rect x="260.50" y="108.95" width="5" height="4.5" fill="#ebe920" stroke="#8d8c13" stroke-width="1"/>
<text x="263.00" y="112.70" font-size="3.8" text-anchor="middle" fill="#818011">5</text>
<rect x="233.55" y="112.30" width="4.5" height="4" fill="#d05a10" stroke="#7c3609" stroke-width="1"/>
<text x="235.80" y="115.80" font-size="3.8" text-anchor="middle" fill="#723108">8</text>
<rect x="361.35" y="111.00" width="5.5" height="5" fill="#d3cd18" stroke="#585407" stroke-width="1"/>
<text x="364.10" y="115.00" font-size="3.8" text-anchor="middle" fill="#656008">6</text>
<rect x="360.00" y="146.50" width="5" height="5" fill="#f0ed20" stroke="#919013" stroke-width="1"/>
<text x="362.50" y="150.50" font-size="3.8" text-anchor="middle" fill="#858411">9</text>
<rect x="427.90" y="144.90" width="5" height="5" fill="#ccc618" stroke="#504c07" stroke-width="1"/>
<text x="430.40" y="148.90" font-size="3.8" text-anchor="middle" fill="#5c5808">4</text>
<rect x="157.60" y="237.45" width="5" height="4.5" fill="#f0ed20" stroke="#919013" stroke-width="1"/>
<text x="160.10" y="241.20" font-size="3.8" text-anchor="middle" fill="#858411">2</text>
<rect x="125.95" y="292.15" width="4.5" height="4.5" fill="#f0ed20" stroke="#919013" stroke-width="1"/>
<text x="128.20" y="295.90" font-size="3.8" text-anchor="middle" fill="#858411">5</text>
<rect x="129.75" y="290.55" width="4.5" height="4.5" fill="#f0ed20" stroke="#919013" stroke-width="1"/>
<text x="132.00" y="294.30" font-size="3.8" text-anchor="middle" fill="#858411">8</text>
<rect x="127.00" y="295.40" width="4" height="3" fill="#f0ed20" stroke="#919013" stroke-width="1"/>
<text x="129.00" y="298.40" font-size="3.8" text-anchor="middle" fill="#858411">2</text>
<rect x="158.35" y="287.05" width="4.5" height="6.5" fill="#ebe920" stroke="#8d8c13" stroke-width="1"/>
<text x="160.60" y="291.80" font-size="3.8" text-anchor="middle" fill="#818011">5</text>
<rect x="195.75" y="260.70" width="4.5" height="7" fill="#e1dc18" stroke="#676307" stroke-width="1"/>
<text x="198.00" y="265.70" font-size="3.8" text-anchor="middle" fill="#767208">9</text>
<rect x="229.75" y="264.05" width="4.5" height="4.5" fill="#ebe920" stroke="#8d8c13" stroke-width="1"/>
<text x="232.00" y="267.80" font-size="3.8" text-anchor="middle" fill="#818011">3</text>
<rect x="259.45" y="261.45" width="4.5" height="6.5" fill="#e1dc18" stroke="#676307" stroke-width="1"/>
<text x="261.70" y="266.20" font-size="3.8" text-anchor="middle" fill="#767208">6</text>
<rect x="328.25" y="262.75" width="5.5" height="5.5" fill="#dad418" stroke="#605c07" stroke-width="1"/>
<text x="331.00" y="267.00" font-size="3.8" text-anchor="middle" fill="#6e6908">7</text>
<rect x="359.45" y="260.30" width="4.5" height="7" fill="#ebe920" stroke="#8d8c13" stroke-width="1"/>
<text x="361.70" y="265.30" font-size="3.8" text-anchor="middle" fill="#818011">1</text>
<rect x="324.85" y="293.70" width="4.5" height="4" fill="#f3f02c" stroke="#93921c" stroke-width="1"/>
<text x="327.10" y="297.20" font-size="3.8" text-anchor="middle" fill="#87861a">4</text>
<rect x="457.50" y="226.20" width="4" height="4" fill="#c85818" stroke="#78340e" stroke-width="1"/>
<text x="459.50" y="229.70" font-size="3.8" text-anchor="middle" fill="#6e300d">5</text>
<rect x="459.30" y="263.80" width="5" height="5" fill="#f0ed20" stroke="#919013" stroke-width="1"/>
<text x="461.80" y="267.80" font-size="3.8" text-anchor="middle" fill="#858411">8</text>
<rect x="428.40" y="294.65" width="5" height="4.5" fill="#ebe920" stroke="#8d8c13" stroke-width="1"/>
<text x="430.90" y="298.40" font-size="3.8" text-anchor="middle" fill="#818011">2</text>
<rect x="91.90" y="378.80" width="5" height="6" fill="#c8b018" stroke="#78690e" stroke-width="1"/>
<text x="94.40" y="383.30" font-size="3.8" text-anchor="middle" fill="#6e600d">3</text>
<rect x="96.80" y="380.20" width="4" height="4" fill="#d3ca1c" stroke="#58500b" stroke-width="1"/>
<text x="98.80" y="383.70" font-size="3.8" text-anchor="middle" fill="#655c0d">6</text>
<rect x="127.00" y="380.70" width="4" height="4" fill="#f0ed20" stroke="#919013" stroke-width="1"/>
<text x="129.00" y="384.20" font-size="3.8" text-anchor="middle" fill="#858411">9</text>
<rect x="129.50" y="385.10" width="4" height="4" fill="#f0ed20" stroke="#919013" stroke-width="1"/>
<text x="131.50" y="388.60" font-size="3.8" text-anchor="middle" fill="#858411">3</text>
<rect x="159.75" y="379.95" width="5.5" height="4.5" fill="#dad418" stroke="#605c07" stroke-width="1"/>
<text x="162.50" y="383.70" font-size="3.8" text-anchor="middle" fill="#6e6908">6</text>
<rect x="158.10" y="385.90" width="4" height="4" fill="#f0ed20" stroke="#919013" stroke-width="1"/>
<text x="160.10" y="389.40" font-size="3.8" text-anchor="middle" fill="#858411">9</text>
<rect x="93.50" y="407.60" width="4" height="4" fill="#d84010" stroke="#812609" stroke-width="1"/>
<text x="95.50" y="411.10" font-size="3.8" text-anchor="middle" fill="#762308">3</text>
<rect x="126.20" y="413.95" width="5" height="4.5" fill="#dad120" stroke="#60580f" stroke-width="1"/>
<text x="128.70" y="417.70" font-size="3.8" text-anchor="middle" fill="#6e6511">6</text>
<rect x="227.80" y="383.40" width="5" height="5" fill="#b08810" stroke="#695109" stroke-width="1"/>
<text x="230.30" y="387.40" font-size="3.8" text-anchor="middle" fill="#604a08">1</text>
<rect x="260.80" y="382.90" width="5" height="5" fill="#dad423" stroke="#605c13" stroke-width="1"/>
<text x="263.30" y="386.90" font-size="3.8" text-anchor="middle" fill="#6e6916">4</text>
<rect x="261.70" y="406.80" width="4" height="4" fill="#d84818" stroke="#812b0e" stroke-width="1"/>
<text x="263.70" y="410.30" font-size="3.8" text-anchor="middle" fill="#76270d">7</text>
<rect x="359.75" y="346.45" width="5.5" height="4.5" fill="#e1dc18" stroke="#676307" stroke-width="1"/>
<text x="362.50" y="350.20" font-size="3.8" text-anchor="middle" fill="#767208">8</text>
<rect x="429.55" y="335.90" width="3.5" height="4" fill="#f3f02c" stroke="#93921c" stroke-width="1"/>
<text x="431.30" y="339.40" font-size="3.8" text-anchor="middle" fill="#87861a">6</text>
<rect x="428.40" y="348.85" width="5" height="4.5" fill="#c08020" stroke="#734c13" stroke-width="1"/>
<text x="430.90" y="352.60" font-size="3.8" text-anchor="middle" fill="#694611">9</text>
<rect x="459.55" y="351.80" width="4.5" height="4" fill="#dad418" stroke="#605c07" stroke-width="1"/>
<text x="461.80" y="355.30" font-size="3.8" text-anchor="middle" fill="#6e6908">3</text>
<rect x="429.55" y="412.90" width="3.5" height="4" fill="#f3f02c" stroke="#93921c" stroke-width="1"/>
<text x="431.30" y="416.40" font-size="3.8" text-anchor="middle" fill="#87861a">6</text>
<rect x="431.65" y="425.75" width="3.5" height="3.5" fill="#f3f02c" stroke="#93921c" stroke-width="1"/>
<text x="433.40" y="429.00" font-size="3.8" text-anchor="middle" fill="#87861a">9</text>
<rect x="126.80" y="502.10" width="7" height="5" fill="#c09818" stroke="#735b0e" stroke-width="1"/>
<text x="130.30" y="506.10" font-size="3.8" text-anchor="middle" fill="#69530d">4</text>
<rect x="261.35" y="464.70" width="5.5" height="5" fill="#d3cd18" stroke="#585407" stroke-width="1"/>
<text x="264.10" y="468.70" font-size="3.8" text-anchor="middle" fill="#656008">2</text>
<rect x="260.50" y="500.50" width="5" height="5" fill="#ded81c" stroke="#63600b" stroke-width="1"/>
<text x="263.00" y="504.50" font-size="3.8" text-anchor="middle" fill="#726e0d">5</text>
<rect x="359.20" y="501.40" width="5" height="5" fill="#e1dc18" stroke="#676307" stroke-width="1"/>
<text x="361.70" y="505.40" font-size="3.8" text-anchor="middle" fill="#767208">9</text>
<rect x="458.75" y="466.00" width="4.5" height="7" fill="#ebe920" stroke="#8d8c13" stroke-width="1"/>
<text x="461.00" y="471.00" font-size="3.8" text-anchor="middle" fill="#818011">7</text>
<rect x="427.65" y="498.90" width="5.5" height="5" fill="#d3cd18" stroke="#585407" stroke-width="1"/>
<text x="430.40" y="502.90" font-size="3.8" text-anchor="middle" fill="#656008">1</text>
<rect x="458.80" y="499.00" width="5" height="5" fill="#e1dc18" stroke="#676307" stroke-width="1"/>
<text x="461.30" y="503.00" font-size="3.8" text-anchor="middle" fill="#767208">4</text>
<rect x="458.60" y="503.20" width="4" height="3" fill="#f0ed20" stroke="#919013" stroke-width="1"/>
<text x="460.60" y="506.20" font-size="3.8" text-anchor="middle" fill="#858411">7</text>
<rect x="426.60" y="533.60" width="4" height="4" fill="#e8c830" stroke="#8b781c" stroke-width="1"/>
<text x="428.60" y="537.10" font-size="3.8" text-anchor="middle" fill="#7f6e1a">1</text>
<line x1="180.20" y1="551.00" x2="180.20" y2="553.30" stroke="#333" stroke-width="0.7"/>
<text x="180.20" y="560.50" font-size="7.7" text-anchor="middle" fill="#000">0</text>
<line x1="196.87" y1="551.00" x2="196.87" y2="553.30" stroke="#333" stroke-width="0.7"/>
<text x="196.87" y="560.50" font-size="7.7" text-anchor="middle" fill="#000">60</text>
<line x1="213.53" y1="551.00" x2="213.53" y2="553.30" stroke="#333" stroke-width="0.7"/>
<text x="213.53" y="560.50" font-size="7.7" text-anchor="middle" fill="#000">120</text>
<line x1="230.20" y1="551.00" x2="230.20" y2="553.30" stroke="#333" stroke-width="0.7"/>
<text x="230.20" y="560.50" font-size="7.7" text-anchor="middle" fill="#000">180</text>
<line x1="246.87" y1="551.00" x2="246.87" y2="553.30" stroke="#333" stroke-width="0.7"/>
<text x="246.87" y="560.50" font-size="7.7" text-anchor="middle" fill="#000">240</text>
<line x1="263.53" y1="551.00" x2="263.53" y2="553.30" stroke="#333" stroke-width="0.7"/>
<text x="263.53" y="560.50" font-size="7.7" text-anchor="middle" fill="#000">300</text>
<line x1="280.20" y1="551.00" x2="280.20" y2="553.30" stroke="#333" stroke-width="0.7"/>
<text x="280.20" y="560.50" font-size="7.7" text-anchor="middle" fill="#000">0</text>
<line x1="296.87" y1="551.00" x2="296.87" y2="553.30" stroke="#333" stroke-width="0.7"/>
<text x="296.87" y="560.50" font-size="7.7" text-anchor="middle" fill="#000">60</text>
<line x1="313.53" y1="551.00" x2="313.53" y2="553.30" stroke="#333" stroke-width="0.7"/>
<text x="313.53" y="560.50" font-size="7.7" text-anchor="middle" fill="#000">120</text>
<line x1="330.20" y1="551.00" x2="330.20" y2="553.30" stroke="#333" stroke-width="0.7"/>
<text x="330.20" y="560.50" font-size="7.7" text-anchor="middle" fill="#000">180</text>
<line x1="346.87" y1="551.00" x2="346.87" y2="553.30" stroke="#333" stroke-width="0.7"/>
<text x="346.87" y="560.50" font-size="7.7" text-anchor="middle" fill="#000">240</text>
<line x1="363.53" y1="551.00" x2="363.53" y2="553.30" stroke="#333" stroke-width="0.7"/>
<text x="363.53" y="560.50" font-size="7.7" text-anchor="middle" fill="#000">300</text>
<line x1="380.20" y1="551.00" x2="380.20" y2="553.30" stroke="#333" stroke-width="0.7"/>
<text x="380.20" y="560.50" font-size="7.7" text-anchor="middle" fill="#000">0</text>
<line x1="396.87" y1="551.00" x2="396.87" y2="553.30" stroke="#333" stroke-width="0.7"/>
<text x="396.87" y="560.50" font-size="7.7" text-anchor="middle" fill="#000">60</text>
<line x1="413.53" y1="551.00" x2="413.53" y2="553.30" stroke="#333" stroke-width="0.7"/>
<text x="413.53" y="560.50" font-size="7.7" text-anchor="middle" fill="#000">120</text>
<line x1="430.20" y1="551.00" x2="430.20" y2="553.30" stroke="#333" stroke-width="0.7"/>
<text x="430.20" y="560.50" font-size="7.7" text-anchor="middle" fill="#000">180</text>
<line x1="446.87" y1="551.00" x2="446.87" y2="553.30" stroke="#333" stroke-width="0.7"/>
<text x="446.87" y="560.50" font-size="7.7" text-anchor="middle" fill="#000">240</text>
<line x1="463.53" y1="551.00" x2="463.53" y2="553.30" stroke="#333" stroke-width="0.7"/>
<text x="463.53" y="560.50" font-size="7.7" text-anchor="middle" fill="#000">300</text>
<line x1="480.20" y1="551.00" x2="480.20" y2="553.30" stroke="#333" stroke-width="0.7"/>
<text x="480.20" y="560.50" font-size="7.7" text-anchor="middle" fill="#000">360</text>
<text x="223.4" y="576.8" font-size="17.4" stroke="#000" stroke-width="0.2" textLength="113.5" lengthAdjust="spacingAndGlyphs">Chi-1 (degrees)</text>
<text transform="translate(56.8,380.0) rotate(-90)" font-size="17.4" stroke="#000" stroke-width="0.2" textLength="111" lengthAdjust="spacingAndGlyphs">Chi-2 (degrees)</text>
<text x="79.6" y="594.8" font-size="7.0" fill="#000" stroke="#000" stroke-width="0.04" textLength="217.5" lengthAdjust="spacingAndGlyphs">cv = Circular Variance (low values signify high clustering of the data points).</text>
<text x="79.6" y="602.7" font-size="7.0" fill="#000" stroke="#000" stroke-width="0.04" textLength="410.2" lengthAdjust="spacingAndGlyphs">Gf = Average G-factor for the residue (the higher the value the more favourable the conformations) based on analysis of high-res. Xstal structures</text>
<text x="79.6" y="611.0" font-size="7.0" fill="#000" stroke="#000" stroke-width="0.04" textLength="122.8" lengthAdjust="spacingAndGlyphs">Data points coloured according to G-factor:</text>
<text x="219.5" y="611.0" font-size="7.0" fill="#f2ec40" textLength="32.5" lengthAdjust="spacingAndGlyphs">Favourable</text>
<text x="270.1" y="611.0" font-size="7.0" fill="#d03030" textLength="38.3" lengthAdjust="spacingAndGlyphs">Unfavourable</text>
<line x1="320.0" y1="592.8" x2="316.81" y2="590.74" stroke="#000" stroke-width="0.9"/>
<line x1="320.0" y1="592.8" x2="323.19" y2="590.74" stroke="#000" stroke-width="0.9"/>
<line x1="320.0" y1="592.8" x2="316.81" y2="594.86" stroke="#000" stroke-width="0.9"/>
<line x1="320.0" y1="592.8" x2="323.19" y2="594.86" stroke="#000" stroke-width="0.9"/>
<ellipse cx="320.0" cy="593.0" rx="2.3" ry="2.6" fill="#000"/>
<ellipse cx="320.0" cy="594.4" rx="1.6" ry="1.0" fill="#2a3010"/>
<text x="327.8" y="594.8" font-size="7.0" fill="#000" stroke="#000" stroke-width="0.04" textLength="30.5" lengthAdjust="spacingAndGlyphs">Accessible</text>
<circle cx="379.8" cy="592.8" r="2.9" fill="#f0f000" stroke="#222" stroke-width="0.9"/>
<circle cx="379.8" cy="592.5" r="1.3" fill="#000"/>
<text x="387.7" y="594.8" font-size="7.0" fill="#000" stroke="#000" stroke-width="0.04" textLength="19.5" lengthAdjust="spacingAndGlyphs">Buried</text>
<text x="30.2" y="751.4" font-size="8.6" fill="#000" stroke="#000" stroke-width="0.04" textLength="173.8" lengthAdjust="spacingAndGlyphs">MRR110B_R3_em_bcr3_09_ensch1ch2.ps</text>
<text x="442.2" y="751.6" font-size="8.6" fill="#000" stroke="#000" stroke-width="0.04" textLength="101.8" lengthAdjust="spacingAndGlyphs">** Selected residues only</text>
</svg></body></html>
